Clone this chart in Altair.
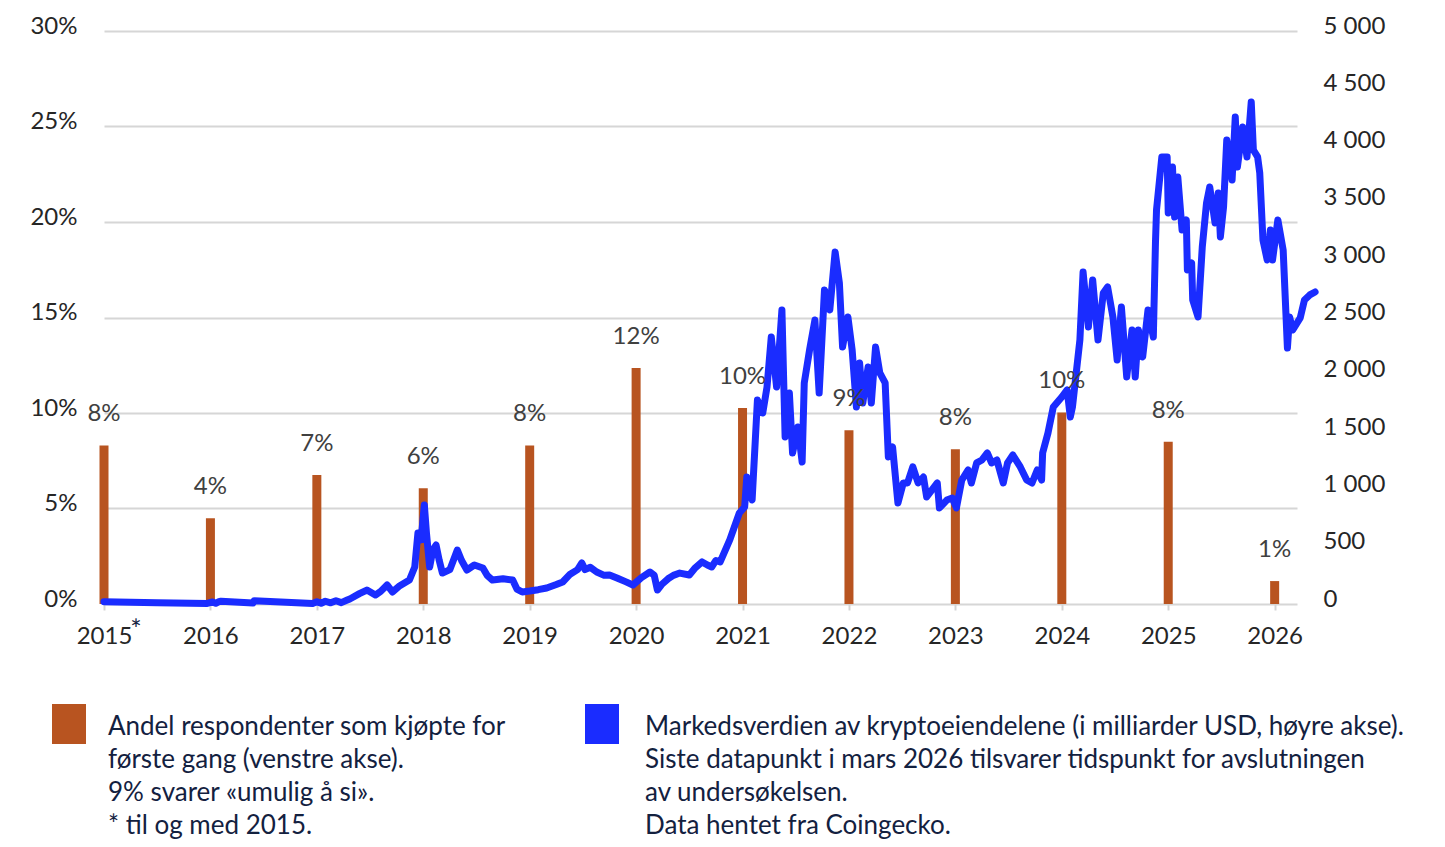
import altair as alt
import pandas as pd

# Share of respondents who bought crypto for the first time, by year (left axis)
survey_years = [2015, 2016, 2017, 2018, 2019, 2020, 2021, 2022, 2023, 2024, 2025, 2026]
first_purchase_share = [0.083, 0.0449, 0.0675, 0.0606, 0.083, 0.1235, 0.1026, 0.091, 0.081, 0.1003, 0.0849, 0.012]

# Total crypto market capitalisation, billions USD (right axis), by decimal year
market_year = [
    2015.00, 2015.50, 2015.97, 2016.02, 2016.05, 2016.08, 2016.10, 2016.40, 2016.41, 2016.96,
    2017.00, 2017.04, 2017.08, 2017.13, 2017.18, 2017.23, 2017.28, 2017.31, 2017.40, 2017.47,
    2017.55, 2017.60, 2017.66, 2017.71, 2017.78, 2017.87, 2017.92, 2017.95, 2017.98, 2018.01,
    2018.03, 2018.06, 2018.09, 2018.12, 2018.15, 2018.18, 2018.25, 2018.32, 2018.36, 2018.41,
    2018.48, 2018.56, 2018.60, 2018.65, 2018.75, 2018.84, 2018.88, 2018.93, 2019.00, 2019.08,
    2019.16, 2019.25, 2019.31, 2019.38, 2019.45, 2019.49, 2019.52, 2019.57, 2019.63, 2019.70,
    2019.75, 2019.82, 2019.90, 2019.97, 2020.05, 2020.13, 2020.17, 2020.20, 2020.24, 2020.30,
    2020.35, 2020.41, 2020.50, 2020.55, 2020.62, 2020.67, 2020.71, 2020.75, 2020.79, 2020.88,
    2020.97, 2021.02, 2021.04, 2021.09, 2021.12, 2021.14, 2021.19, 2021.23, 2021.27, 2021.32,
    2021.37, 2021.40, 2021.44, 2021.47, 2021.52, 2021.56, 2021.58, 2021.63, 2021.68, 2021.72,
    2021.77, 2021.82, 2021.87, 2021.91, 2021.94, 2021.99, 2022.03, 2022.07, 2022.10, 2022.13,
    2022.18, 2022.21, 2022.25, 2022.29, 2022.34, 2022.37, 2022.41, 2022.46, 2022.51, 2022.55,
    2022.60, 2022.65, 2022.70, 2022.73, 2022.78, 2022.83, 2022.85, 2022.92, 2022.97, 2023.01,
    2023.06, 2023.12, 2023.15, 2023.20, 2023.25, 2023.30, 2023.34, 2023.39, 2023.45, 2023.49,
    2023.54, 2023.61, 2023.67, 2023.72, 2023.77, 2023.81, 2023.82, 2023.87, 2023.92, 2024.00,
    2024.05, 2024.08, 2024.10, 2024.17, 2024.20, 2024.25, 2024.29, 2024.34, 2024.39, 2024.43,
    2024.48, 2024.52, 2024.56, 2024.61, 2024.66, 2024.69, 2024.72, 2024.76, 2024.81, 2024.86,
    2024.88, 2024.89, 2024.94, 2024.99, 2025.00, 2025.04, 2025.06, 2025.09, 2025.13, 2025.17,
    2025.18, 2025.22, 2025.23, 2025.28, 2025.32, 2025.36, 2025.39, 2025.44, 2025.47, 2025.49,
    2025.52, 2025.55, 2025.60, 2025.63, 2025.65, 2025.70, 2025.74, 2025.78, 2025.80, 2025.84,
    2025.86, 2025.89, 2025.93, 2025.96, 2025.98, 2026.03, 2026.08, 2026.12, 2026.14, 2026.17,
    2026.24, 2026.28, 2026.33, 2026.38,
]
market_value = [
    20, 10, 5, 18, 6, 20, 25, 8, 28, 5,
    20, 6, 24, 10, 28, 12, 32, 44, 90, 122,
    78, 110, 166, 105, 160, 209, 323, 620, 560, 864,
    620, 323, 470, 515, 380, 270, 300, 471, 380, 297,
    340, 314, 250, 209, 220, 209, 130, 105, 113, 125,
    140, 170, 192, 260, 300, 358, 300, 320, 279, 250,
    253, 227, 195, 166, 230, 279, 250, 122, 170, 220,
    250, 270, 253, 310, 367, 340, 323, 380, 367, 559,
    794, 847, 1108, 907, 1431, 1780, 1667, 1894, 2330, 1894,
    2566, 1457, 1841, 1318, 1545, 1239, 1929, 2217, 2478, 1841,
    2740, 2566, 3072, 2801, 2243, 2505, 2217, 1719, 2103, 1754,
    2068, 1754, 2243, 2016, 1929, 1283, 1370, 881, 1056, 1056,
    1196, 1056, 1108, 934, 995, 1056, 838, 907, 925, 838,
    1082, 1170, 1056, 1231, 1257, 1318, 1231, 1257, 1056, 1231,
    1300, 1196, 1082, 1056, 1170, 1082, 1318, 1492, 1719, 1806,
    1868, 1632, 1719, 2304, 2897, 2417, 2828, 2304, 2714, 2767,
    2505, 2129, 2592, 1981, 2391, 1981, 2391, 2156, 2566, 2330,
    3150, 3439, 3901, 3901, 3412, 3814, 3377, 3726, 3264, 3351,
    2915, 2976, 2653, 2505, 3116, 3500, 3639, 3325, 3587, 3203,
    3465, 4049, 3700, 4250, 3814, 4163, 3901, 4381, 3962, 3901,
    3761, 3177, 3002, 3264, 3002, 3351, 3089, 2234, 2505, 2391,
    2496, 2653, 2697, 2723,
]

left_ticks = [0, 0.05, 0.10, 0.15, 0.20, 0.25, 0.30]
right_ticks = [0, 500, 1000, 1500, 2000, 2500, 3000, 3500, 4000, 4500, 5000]

legend_share_lines = [
    "Andel respondenter som kjøpte for",
    "første gang (venstre akse).",
    "9% svarer «umulig å si».",
    "* til og med 2015.",
]
legend_market_lines = [
    "Markedsverdien av kryptoeiendelene (i milliarder USD, høyre akse).",
    "Siste datapunkt i mars 2026 tilsvarer tidspunkt for avslutningen",
    "av undersøkelsen.",
    "Data hentet fra Coingecko.",
]

BAR_COLOR = "#B85420"
LINE_COLOR = "#1A2CFF"
NAVY = "#13213F"
FONT = "Lato"
FS = 24

bars_df = pd.DataFrame({"year": survey_years, "share": first_purchase_share})
market_df = pd.DataFrame({"year": market_year, "value": market_value})

x_scale = alt.Scale(domain=[2015, 2026.21], nice=False, zero=False, padding=0)
share_scale = alt.Scale(domain=[0, 0.30], nice=False)

x_axis = alt.Axis(
    values=survey_years, format="d", title=None, grid=False, domain=False,
    ticks=True, tickColor="#D4D4D4", tickSize=6, tickWidth=2, labelPadding=14,
    labelFlush=False, labelOverlap=False,
)
x_enc = alt.X("year:Q", scale=x_scale, axis=x_axis)

bars = alt.Chart(bars_df).mark_bar(size=9, color=BAR_COLOR).encode(
    x=x_enc,
    y=alt.Y(
        "share:Q", scale=share_scale,
        axis=alt.Axis(
            values=left_ticks, format=".0%", title=None, grid=True,
            gridColor="#D6D6D6", gridWidth=2, domain=False, ticks=False,
            labelPadding=27, labelOffset=-5,
        ),
    ),
)

market_line = alt.Chart(market_df).mark_line(
    color=LINE_COLOR, strokeWidth=7, strokeCap="round", strokeJoin="round"
).encode(
    x=x_enc,
    y=alt.Y(
        "value:Q", scale=alt.Scale(domain=[0, 5000], nice=False),
        axis=alt.Axis(
            orient="right", values=right_ticks, title=None, grid=False,
            domain=False, ticks=False, labelPadding=26, labelOffset=-5,
            labelExpr="replace(format(datum.value, ','), ',', ' ')",
        ),
    ),
)

bar_labels = alt.Chart(bars_df).mark_text(
    dy=-31, baseline="middle", font=FONT, fontSize=FS, color="#404040"
).encode(
    x=x_enc,
    y=alt.Y("share:Q", scale=share_scale, axis=None),
    text=alt.Text("share:Q", format=".0%"),
)

# superscript asterisk after the first year label
star = alt.Chart(pd.DataFrame({"year": [2015]})).mark_text(
    text="*", dx=32, baseline="middle", font=FONT, fontSize=27, color=NAVY
).encode(
    x=x_enc,
    y=alt.value(600),
)

one_row = pd.DataFrame({"k": [0]})


def legend_entry(lines, color, x0, text_gap):
    swatch = alt.Chart(one_row).mark_rect(color=color).encode(
        x=alt.value(x0), x2=alt.value(x0 + 34), y=alt.value(673), y2=alt.value(713)
    )
    label = alt.Chart(one_row).mark_text(
        align="left", baseline="alphabetic", font=FONT, fontSize=26,
        lineHeight=33, color=NAVY,
    ).encode(x=alt.value(x0 + 34 + text_gap), y=alt.value(704), text=alt.value(lines))
    return swatch + label


chart = alt.layer(
    bars,
    market_line,
    bar_labels,
    star,
    legend_entry(legend_share_lines, BAR_COLOR, -52, 22),
    legend_entry(legend_market_lines, LINE_COLOR, 481, 26),
).resolve_scale(y="independent").properties(
    width=1193,
    height=573,
    padding={"left": 104, "top": 31, "right": 148, "bottom": 243},
    autosize=alt.AutoSizeParams(type="none"),
).configure_view(stroke=None).configure_axis(
    labelFont=FONT, labelFontSize=FS, labelColor="#262626"
)

chart.save("out.html", embed_options={"renderer": "svg", "actions": False})
